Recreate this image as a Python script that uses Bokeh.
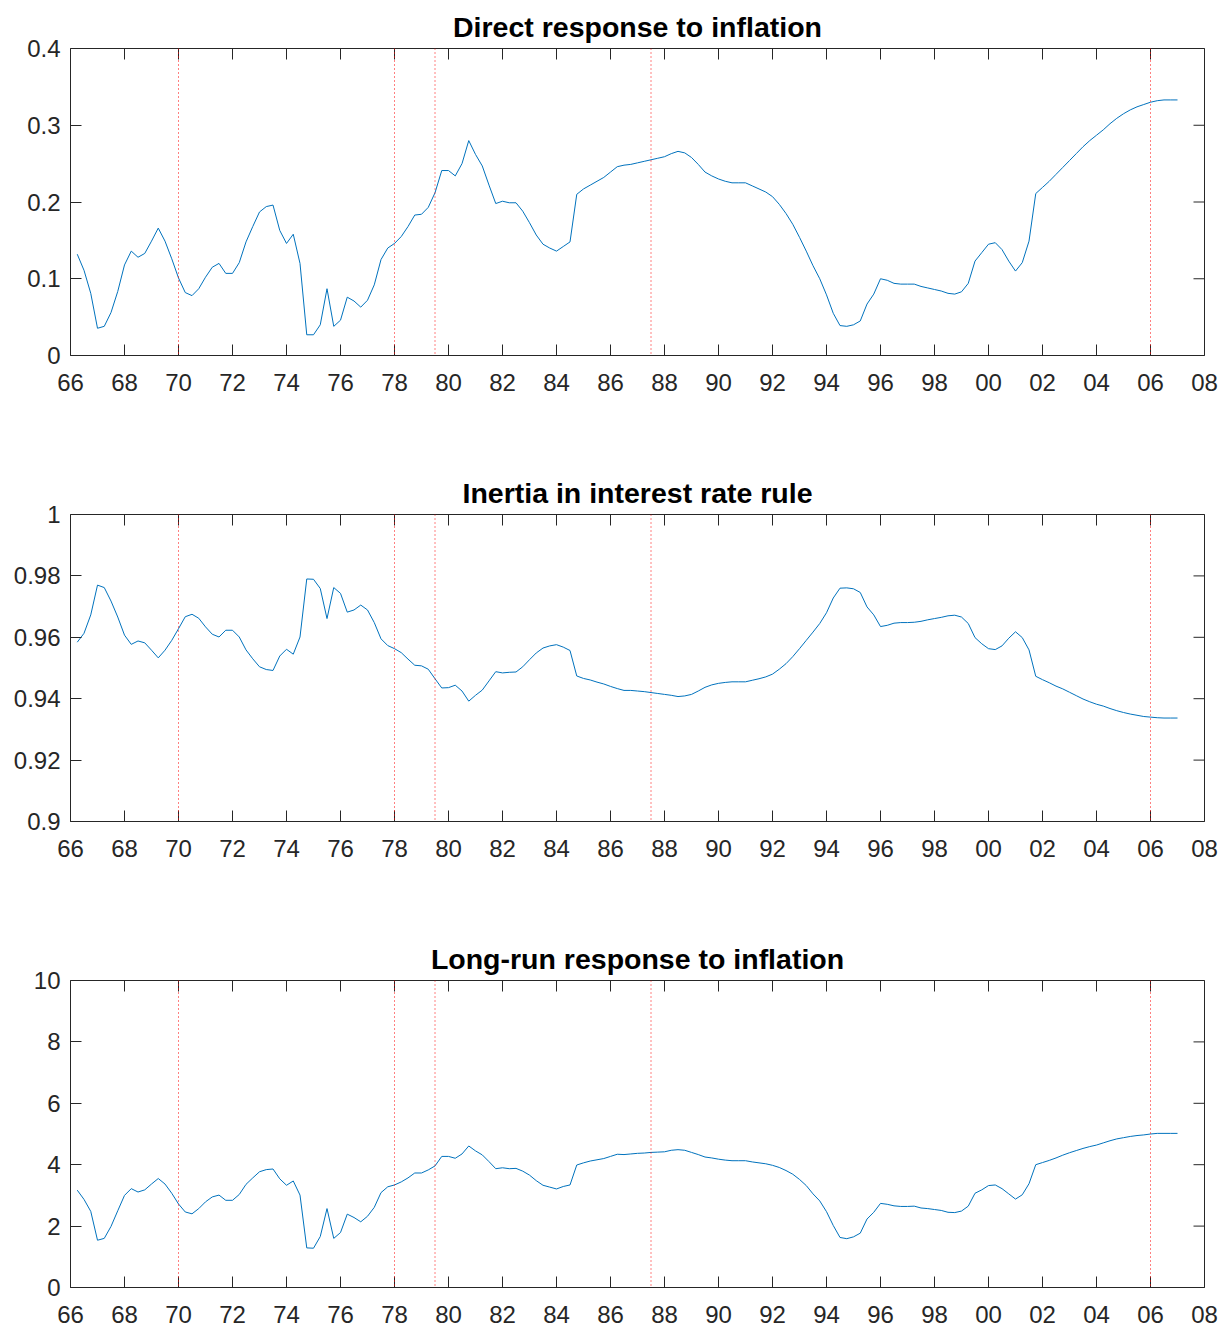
import math
import pandas as pd
from bokeh.plotting import figure
from bokeh.models import Range1d, FixedTicker, LinearAxis, Span
from bokeh.layouts import column
from bokeh.embed import file_html
from bokeh.resources import INLINE

# quarterly observations 1966Q2 .. 2007Q1, as decimal years
quarters = pd.period_range("1966Q2", "2007Q1", freq="Q")
dates = [q.year + (q.quarter - 1) / 4 for q in quarters]

direct = [
    0.132, 0.111, 0.081, 0.0355, 0.038, 0.056, 0.0835, 0.118, 0.136, 0.128,
    0.133, 0.149, 0.166, 0.149, 0.126, 0.101, 0.082, 0.078, 0.087, 0.102,
    0.115, 0.120, 0.107, 0.107, 0.121, 0.148, 0.168, 0.187, 0.194, 0.196,
    0.163, 0.146, 0.158, 0.120, 0.027, 0.027, 0.040, 0.087, 0.038, 0.046,
    0.076, 0.071, 0.063, 0.072, 0.092, 0.125, 0.140, 0.146, 0.155, 0.168,
    0.183, 0.184, 0.193, 0.212, 0.241, 0.241, 0.234, 0.250, 0.280, 0.262,
    0.247, 0.222, 0.198, 0.201, 0.199, 0.199, 0.188, 0.173, 0.157, 0.145,
    0.140, 0.136, 0.142, 0.148, 0.210, 0.217, 0.222, 0.227, 0.232, 0.239,
    0.246, 0.248, 0.249, 0.251, 0.253, 0.255, 0.257, 0.259, 0.263, 0.266,
    0.264, 0.258, 0.249, 0.239, 0.234, 0.230, 0.227, 0.225, 0.225, 0.225,
    0.221, 0.217, 0.213, 0.207, 0.197, 0.185, 0.171, 0.154, 0.136, 0.117,
    0.100, 0.079, 0.055, 0.039, 0.038, 0.040, 0.045, 0.067, 0.080, 0.100,
    0.098, 0.094, 0.093, 0.093, 0.093, 0.090, 0.088, 0.086, 0.084, 0.081,
    0.080, 0.083, 0.094, 0.123, 0.134, 0.145, 0.147, 0.138, 0.123, 0.110,
    0.121, 0.149, 0.211, 0.219, 0.227, 0.236, 0.245, 0.254, 0.263, 0.272,
    0.280, 0.287, 0.294, 0.302, 0.309, 0.315, 0.320, 0.324, 0.327, 0.330,
    0.332, 0.333, 0.333, 0.333,
]

inertia = [
    0.9584, 0.9613, 0.9673, 0.9770, 0.9762, 0.9718, 0.9666, 0.9607, 0.9577, 0.9588,
    0.9582, 0.9558, 0.9533, 0.9558, 0.9590, 0.9628, 0.9667, 0.9675, 0.9662, 0.9634,
    0.9610, 0.9601, 0.9623, 0.9623, 0.9601, 0.9559, 0.9530, 0.9504, 0.9495, 0.9492,
    0.9539, 0.9561, 0.9545, 0.9601, 0.9790, 0.9789, 0.9759, 0.9661, 0.9762, 0.9743,
    0.9682, 0.9689, 0.9705, 0.9689, 0.9648, 0.9595, 0.9573, 0.9563, 0.9550, 0.9529,
    0.9509, 0.9507, 0.9496, 0.9465, 0.9435, 0.9436, 0.9444, 0.9425, 0.9392, 0.9411,
    0.9428, 0.9458, 0.9488, 0.9484, 0.9486, 0.9487, 0.9504, 0.9527, 0.9549, 0.9565,
    0.9572, 0.9576, 0.9568, 0.9557, 0.9474, 0.9466, 0.9461, 0.9454, 0.9448, 0.9440,
    0.9433, 0.9427, 0.9427, 0.9425, 0.9423, 0.9420, 0.9417, 0.9414, 0.9411, 0.9407,
    0.9409, 0.9414, 0.9425, 0.9437, 0.9445, 0.9450, 0.9453, 0.9455, 0.9455, 0.9455,
    0.9460, 0.9465, 0.9471, 0.9480, 0.9496, 0.9514, 0.9537, 0.9563, 0.9590, 0.9617,
    0.9645, 0.9680, 0.9728, 0.9760, 0.9761, 0.9758, 0.9746, 0.9699, 0.9673, 0.9635,
    0.9639, 0.9646, 0.9648, 0.9648, 0.9649, 0.9652, 0.9657, 0.9661, 0.9665, 0.9670,
    0.9672, 0.9666, 0.9645, 0.9599, 0.9579, 0.9563, 0.9560, 0.9572, 0.9597, 0.9618,
    0.9599, 0.9559, 0.9473, 0.9462, 0.9452, 0.9441, 0.9432, 0.9421, 0.9410, 0.9399,
    0.9390, 0.9382, 0.9376, 0.9368, 0.9361, 0.9355, 0.9350, 0.9346, 0.9342, 0.9340,
    0.9338, 0.9337, 0.9337, 0.9337,
]

longrun = [
    3.17, 2.87, 2.48, 1.54, 1.60, 1.99, 2.50, 3.00, 3.22, 3.11,
    3.18, 3.37, 3.55, 3.37, 3.07, 2.72, 2.46, 2.40, 2.57, 2.79,
    2.95, 3.01, 2.84, 2.84, 3.03, 3.36, 3.57, 3.77, 3.84, 3.86,
    3.54, 3.33, 3.47, 3.01, 1.29, 1.28, 1.66, 2.57, 1.60, 1.79,
    2.39, 2.28, 2.14, 2.32, 2.61, 3.09, 3.28, 3.34, 3.44, 3.57,
    3.73, 3.73, 3.83, 3.96, 4.27, 4.27, 4.21, 4.35, 4.61, 4.45,
    4.32, 4.10, 3.87, 3.90, 3.87, 3.88, 3.79, 3.66, 3.48, 3.33,
    3.27, 3.21, 3.29, 3.34, 3.99, 4.06, 4.12, 4.16, 4.20, 4.27,
    4.34, 4.33, 4.35, 4.37, 4.38, 4.40, 4.41, 4.42, 4.47, 4.49,
    4.47, 4.40, 4.33, 4.25, 4.22, 4.18, 4.15, 4.13, 4.13, 4.13,
    4.09, 4.06, 4.03, 3.98, 3.91, 3.81, 3.69, 3.52, 3.32, 3.05,
    2.82, 2.47, 2.02, 1.63, 1.59, 1.65, 1.77, 2.23, 2.45, 2.74,
    2.71, 2.66, 2.64, 2.64, 2.65, 2.59, 2.57, 2.54, 2.51, 2.45,
    2.44, 2.49, 2.65, 3.07, 3.18, 3.32, 3.34, 3.22, 3.05, 2.88,
    3.02, 3.38, 4.00, 4.07, 4.14, 4.22, 4.31, 4.39, 4.46, 4.53,
    4.59, 4.64, 4.71, 4.78, 4.84, 4.88, 4.92, 4.95, 4.97, 5.00,
    5.02, 5.02, 5.02, 5.02,
]

breaks = [1970, 1978, 1979.5, 1987.5, 2006]

x_ticks = [1966, 1968, 1970, 1972, 1974, 1976, 1978, 1980, 1982, 1984, 1986,
           1988, 1990, 1992, 1994, 1996, 1998, 2000, 2002, 2004, 2006, 2008]
x_labels = ["66", "68", "70", "72", "74", "76", "78", "80", "82", "84", "86",
            "88", "90", "92", "94", "96", "98", "00", "02", "04", "06", "08"]
x_lim = (1966, 2008)

titles = ["Direct response to inflation",
          "Inertia in interest rate rule",
          "Long-run response to inflation"]
series = [direct, inertia, longrun]
y_ranges = [(0, 0.4), (0.9, 1.0), (0, 10)]
y_ticks = [[0, 0.1, 0.2, 0.3, 0.4],
           [0.9, 0.92, 0.94, 0.96, 0.98, 1.0],
           [0, 2, 4, 6, 8, 10]]
y_labels = [["0", "0.1", "0.2", "0.3", "0.4"],
            ["0.9", "0.92", "0.94", "0.96", "0.98", "1"],
            ["0", "2", "4", "6", "8", "10"]]

AX = "#262626"
FONT = "Liberation Sans"
TICK_LEN = 11
heights = [466, 466, 395]
bottoms = [111, 111, 40]


def style_axis(ax, ticks, labels):
    ax.ticker = FixedTicker(ticks=ticks)
    ax.major_label_overrides = dict(zip(ticks, labels))
    ax.major_tick_in = TICK_LEN
    ax.major_tick_out = 0
    ax.minor_tick_line_color = None
    ax.major_tick_line_color = AX
    ax.major_tick_line_width = 1
    ax.axis_line_color = None
    ax.major_label_text_font = FONT
    ax.major_label_text_color = AX
    ax.major_label_text_font_size = "24px"


figs = []
for i in range(3):
    y0, y1 = y_ranges[i]
    p = figure(width=1221, height=heights[i], output_backend="svg",
               toolbar_location=None,
               x_range=Range1d(*x_lim),
               y_range=Range1d(y0, y1),
               x_axis_location=None, y_axis_location=None,
               min_border_left=70, min_border_right=17,
               min_border_top=48, min_border_bottom=bottoms[i])
    p.xgrid.visible = False
    p.ygrid.visible = False
    p.background_fill_color = "white"
    p.border_fill_color = "white"
    p.outline_line_color = AX
    p.outline_line_width = 1

    bx = LinearAxis()
    style_axis(bx, x_ticks, x_labels)
    bx.major_label_standoff = 18
    p.add_layout(bx, "below")

    ly = LinearAxis()
    style_axis(ly, y_ticks[i], y_labels[i])
    ly.major_label_standoff = 10
    p.add_layout(ly, "left")

    # inward ticks on the top and right edges (half of each dash is clipped by the frame)
    p.scatter(x=x_ticks, y=[y1] * len(x_ticks), marker="dash", angle=math.pi / 2,
              size=2 * TICK_LEN, line_color=AX, line_width=1)
    p.scatter(x=[x_lim[1]] * len(y_ticks[i]), y=y_ticks[i], marker="dash",
              size=2 * TICK_LEN, line_color=AX, line_width=1)

    for b in breaks:
        p.add_layout(Span(location=b, dimension="height", line_color="#FF0000",
                          line_dash="1 3", line_width=1))

    p.line(dates, series[i], line_color="#0072BD", line_width=1)

    p.title.text = titles[i]
    p.title.align = "center"
    p.title.text_font = FONT
    p.title.text_font_style = "bold"
    p.title.text_font_size = "28.5px"
    p.title.text_color = "black"
    p.title.standoff = 12
    figs.append(p)

layout = column(*figs, spacing=0)
open("out.html", "w").write(file_html(layout, INLINE))
